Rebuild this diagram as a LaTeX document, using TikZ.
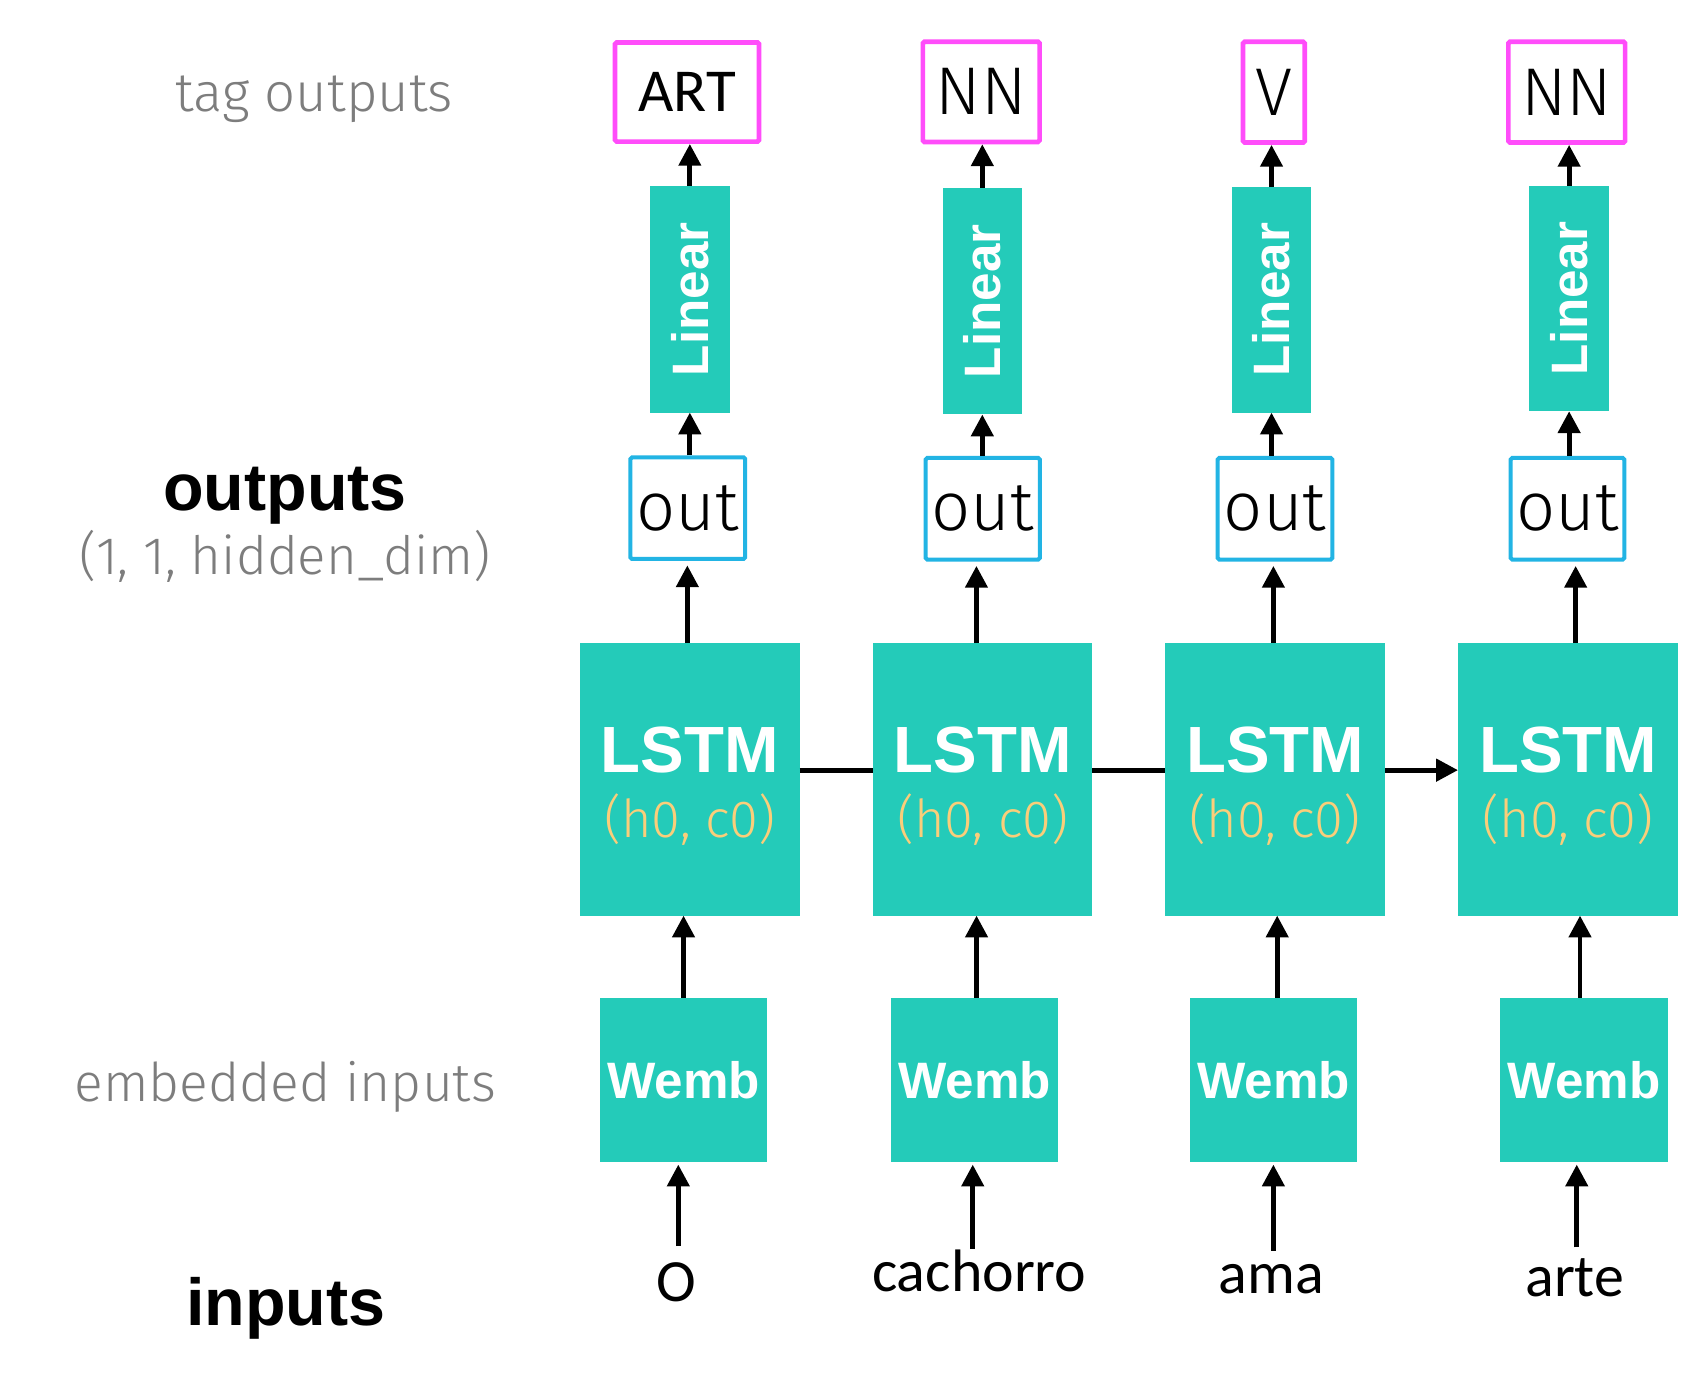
\documentclass[tikz,border=0pt]{standalone}
\usepackage{fontspec}
\setmainfont{Liberation Sans}
\newfontfamily\calfont{Carlito}
\newfontfamily\lightfont{Fira Sans Light}
\usetikzlibrary{arrows.meta,calc}
\newcommand\fsz[1]{\fontsize{#1}{#1}\selectfont}
\definecolor{tealfill}{RGB}{36,203,185}
\definecolor{tagpink}{RGB}{255,77,250}
\definecolor{outblue}{RGB}{34,180,228}
\definecolor{hcgold}{RGB}{250,206,122}
\definecolor{labgray}{RGB}{125,125,125}
\begin{document}
\begin{tikzpicture}[x=1pt,y=-1pt,
  tealbox/.style={fill=tealfill, inner sep=0pt, outer sep=0pt},
  tagbox/.style={draw=tagpink, line width=4.3pt, inner sep=0pt, rounded corners=1.5pt, font=\lightfont\fsz{62}},
  outbox/.style={draw=outblue, line width=3.7pt, inner sep=0pt, rounded corners=1.5pt, font=\lightfont\fsz{63}},
  arr/.style={line width=4.5pt, -{Triangle[length=20pt,width=20pt]}},
  link/.style={line width=4.5pt},
  whitebold/.style={text=white, font=\bfseries\fsz{47}, inner sep=0pt},
  lstmtext/.style={text=white, font=\bfseries\fsz{60}, inner sep=0pt, anchor=base},
  hctext/.style={text=hcgold, font=\lightfont\fsz{48}, inner sep=0pt, anchor=base},
  graylab/.style={text=labgray, font=\lightfont\fsz{50}, inner sep=0pt, anchor=base},
  boldlab/.style={font=\bfseries\fsz{61}, inner sep=0pt, anchor=base},
  inword/.style={font=\calfont\fsz{55}, inner sep=0pt, anchor=base}]
\path[use as bounding box, fill=white] (0,0) rectangle (1568,1283);

% side labels
\node[graylab] (lab1) at (288.5,102.7) {tag outputs};
\node[boldlab] (lab2) at (261.7,468.9) {outputs};
\node[graylab, font=\lightfont\fsz{48.5}] (lab3) at (262,527.6) {(1, 1, hidden\_dim)};
\node[graylab, font=\lightfont\fsz{49}] (lab4) at (261.8,1011) {embedded inputs};
\node[boldlab] (lab5) at (262.5,1216.6) {inputs};

% tag outputs
\node[tagbox, font=\calfont\fsz{56}, minimum width=132.2pt, minimum height=91pt] (t1) at (630.75,84.5) {ART};
\node[tagbox, minimum width=107.2pt, minimum height=92pt] (t2) at (900.8,84.3) {NN};
\node[tagbox, minimum width=56.7pt, minimum height=92.5pt] (t3) at (1169.5,84.6) {V};
\node[tagbox, minimum width=107.2pt, minimum height=92.5pt] (t4) at (1438.3,84.6) {NN};

% linear layers
\node[tealbox, minimum width=73.5pt, minimum height=208pt] (lin1) at (633.3,274.7) {};
\node[tealbox, minimum width=72.5pt, minimum height=208pt] (lin2) at (901.8,276.5) {};
\node[tealbox, minimum width=72.5pt, minimum height=207pt] (lin3) at (1167.3,275.3) {};
\node[tealbox, minimum width=73pt, minimum height=207pt] (lin4) at (1440.5,274) {};
\node[whitebold, rotate=90] (lin1t) at (lin1.center) {Linear};
\node[whitebold, rotate=90] (lin2t) at (lin2.center) {Linear};
\node[whitebold, rotate=90] (lin3t) at (lin3.center) {Linear};
\node[whitebold, rotate=90] (lin4t) at (lin4.center) {Linear};

% outputs
\node[outbox, minimum width=105.3pt, minimum height=93.3pt] (o1) at (631.4,466.5) {out};
\node[outbox, minimum width=104.8pt, minimum height=93.3pt] (o2) at (902.2,467) {out};
\node[outbox, minimum width=105.3pt, minimum height=93.3pt] (o3) at (1170.5,467) {out};
\node[outbox, minimum width=104.3pt, minimum height=93.3pt] (o4) at (1439,467) {out};

% LSTM cells
\node[tealbox, minimum width=201.5pt, minimum height=250pt] (L1) at (633.3,715.5) {};
\node[tealbox, minimum width=201pt, minimum height=250pt] (L2) at (902,715.5) {};
\node[tealbox, minimum width=202pt, minimum height=250pt] (L3) at (1170.5,715.5) {};
\node[tealbox, minimum width=202pt, minimum height=250pt] (L4) at (1439.5,715.5) {};
\node[lstmtext] (L1a) at ($(L1.center)+(0,-5.9)$) {LSTM};
\node[lstmtext] (L2a) at ($(L2.center)+(0,-5.9)$) {LSTM};
\node[lstmtext] (L3a) at ($(L3.center)+(0,-5.9)$) {LSTM};
\node[lstmtext] (L4a) at ($(L4.center)+(0,-5.9)$) {LSTM};
\node[hctext] (L1b) at ($(L1.center)+(0,53.5)$) {(h0, c0)};
\node[hctext] (L2b) at ($(L2.center)+(0,53.5)$) {(h0, c0)};
\node[hctext] (L3b) at ($(L3.center)+(0,53.5)$) {(h0, c0)};
\node[hctext] (L4b) at ($(L4.center)+(0,53.5)$) {(h0, c0)};

% embeddings
\node[tealbox, whitebold, minimum width=153pt, minimum height=151pt] (w1) at (627.5,991.6) {Wemb};
\node[tealbox, whitebold, minimum width=153.5pt, minimum height=151pt] (w2) at (894.75,991.6) {Wemb};
\node[tealbox, whitebold, minimum width=153.5pt, minimum height=151pt] (w3) at (1169.2,991.6) {Wemb};
\node[tealbox, whitebold, minimum width=154.5pt, minimum height=151pt] (w4) at (1454.2,991.6) {Wemb};

% input words
\node[inword] (i1) at (621,1195) {O};
\node[inword] (i2) at (899,1186) {cachorro};
\node[inword] (i3) at (1167.2,1187) {ama};
\node[inword] (i4) at (1445.7,1190) {arte};

% inputs -> embeddings
\draw[arr, shorten >=2pt] ($(i1.base)+(1.7,-51)$) coordinate (a1) -- (a1 |- w1.south);
\draw[arr, shorten >=2pt] ($(i2.base)+(-6,-39.5)$) coordinate (a2) -- (a2 |- w2.south);
\draw[arr, shorten >=2pt] ($(i3.base)+(1.8,-39)$) coordinate (a3) -- (a3 |- w3.south);
\draw[arr, shorten >=2pt] ($(i4.base)+(1.8,-45)$) coordinate (a4) -- (a4 |- w4.south);

% embeddings -> LSTM
\draw[arr] (w1.north) -- (w1.north |- L1.south);
\draw[arr] ([xshift=1.75pt]w2.north) coordinate (b2) -- (b2 |- L2.south);
\draw[arr] ([xshift=3.3pt]w3.north) coordinate (b3) -- (b3 |- L3.south);
\draw[arr] ([xshift=-3.7pt]w4.north) coordinate (b4) -- (b4 |- L4.south);

% LSTM -> out
\draw[arr, shorten >=4pt] ([xshift=-2.3pt]L1.north) coordinate (c1) -- (c1 |- o1.south);
\draw[arr, shorten >=4pt] ([xshift=-5.6pt]L2.north) coordinate (c2) -- (c2 |- o2.south);
\draw[arr, shorten >=4pt] ([xshift=-1.5pt]L3.north) coordinate (c3) -- (c3 |- o3.south);
\draw[arr, shorten >=4pt] ([xshift=7pt]L4.north) coordinate (c4) -- (c4 |- o4.south);

% out -> Linear
\draw[arr] (lin1.south |- o1.north) -- (lin1.south);
\draw[arr] (lin2.south |- o2.north) -- (lin2.south);
\draw[arr] (lin3.south |- o3.north) -- (lin3.south);
\draw[arr] (lin4.south |- o4.north) -- (lin4.south);

% Linear -> tags
\draw[arr] (lin1.north) -- (lin1.north |- t1.south);
\draw[arr] (lin2.north) -- (lin2.north |- t2.south);
\draw[arr] (lin3.north) -- (lin3.north |- t3.south);
\draw[arr] (lin4.north) -- (lin4.north |- t4.south);

% recurrent links
\draw[link] ([yshift=8.5pt]L1.east) -- ([yshift=8.5pt]L2.west);
\draw[link] ([yshift=8.5pt]L2.east) -- ([yshift=8.5pt]L3.west);
\draw[arr] ([yshift=8.5pt]L3.east) -- ([yshift=8.5pt]L4.west);
\end{tikzpicture}
\end{document}
